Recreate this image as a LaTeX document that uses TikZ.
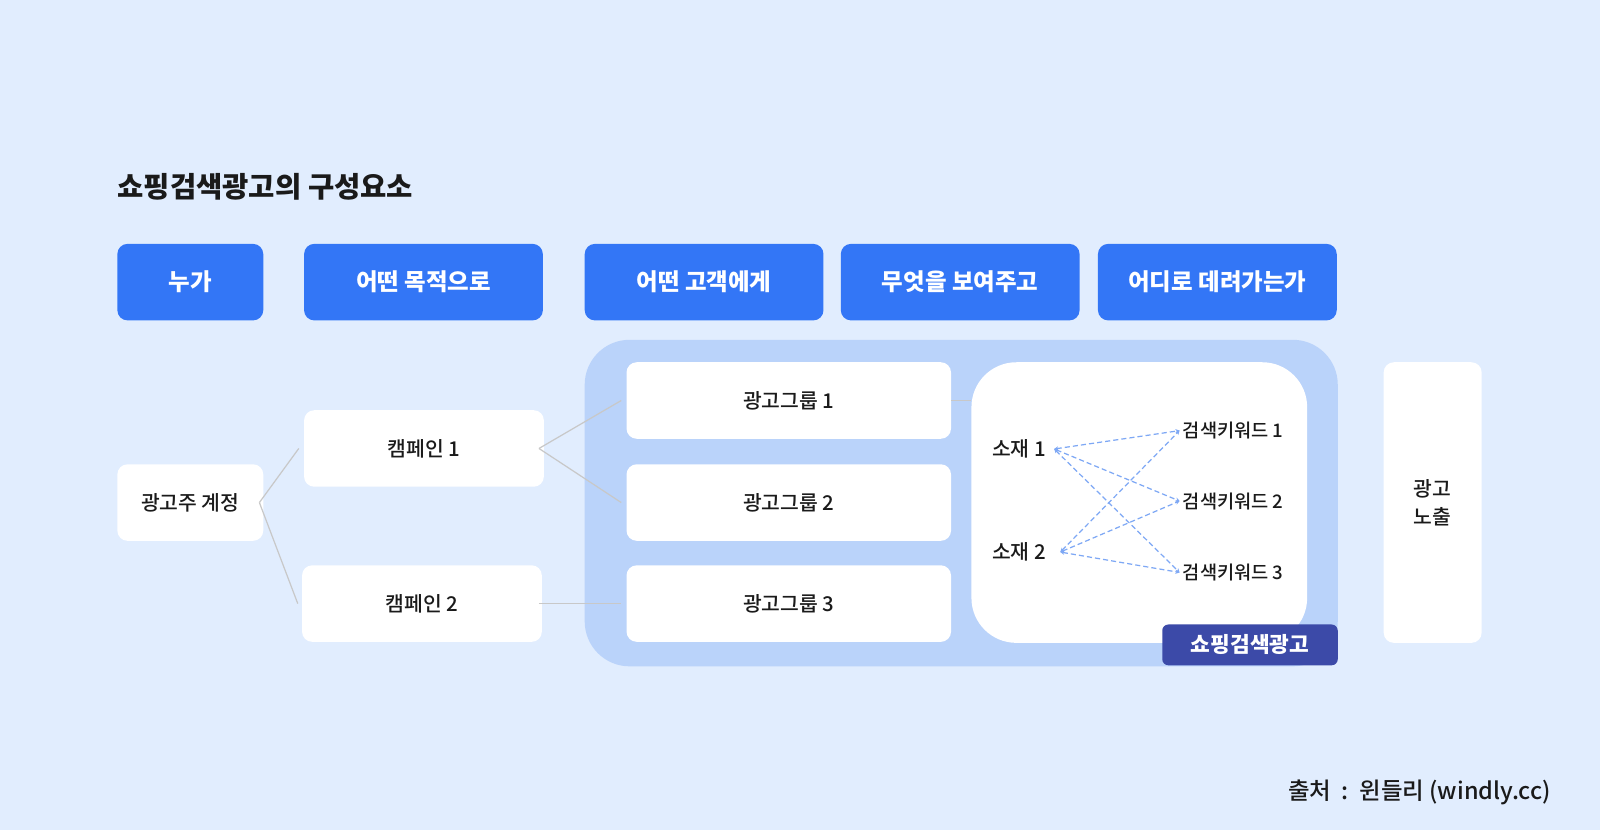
\documentclass[tikz,border=0pt]{standalone}
\usepackage{fontspec}
\setmainfont{Noto Sans CJK KR}
\newfontfamily\mediumfont{Noto Sans CJK KR Medium}
\usetikzlibrary{arrows.meta, positioning}
\definecolor{pagebg}{HTML}{E1EDFE}
\definecolor{headblue}{HTML}{3376F6}
\definecolor{groupbg}{HTML}{BAD3FA}
\definecolor{labelblue}{HTML}{3C4AA8}
\definecolor{linegray}{HTML}{C8C8C8}
\definecolor{linkblue}{HTML}{7EA8F5}
\definecolor{ink}{HTML}{1A1A1A}
\tikzset{
    x=1pt, y=-1pt, % pixel-like units, y grows downwards
    header/.style={fill=headblue, text=white, rounded corners=10pt, minimum width=234pt, minimum height=75pt, font=\fontsize{23}{27}\selectfont\bfseries}, % blue question boxes
    card/.style={fill=white, text=ink, rounded corners=10pt, minimum width=235pt, minimum height=75pt, font=\fontsize{20}{27}\mediumfont}, % white element boxes
    tree/.style={draw=linegray, line width=1.2pt}, % gray structure lines
    link/.style={draw=linkblue, line width=1.2pt, dash pattern=on 5pt off 3pt, {Stealth[length=4pt,width=4pt]}-{Stealth[length=4pt,width=4pt]}}, % dashed matching lines
    item/.style={text=ink, inner sep=3pt, font=\fontsize{20}{24}\mediumfont},
}
\begin{document}
\begin{tikzpicture}
\fill[pagebg] (0,0) rectangle (1568,813);
\useasboundingbox (0,0) rectangle (1568,813);

\node[anchor=west, text=ink, inner sep=0pt, font=\fontsize{28}{32}\selectfont\bfseries] (title) at (115,183) {쇼핑검색광고의 구성요소};

% question row
\node[header, minimum width=143pt] (who) at (186.5,276.5) {누가};
\node[header] (why) at (415,276.5) {어떤 목적으로};
\node[header] (whom) at (690,276.5) {어떤 고객에게};
\node[header] (what) at (941,276.5) {무엇을 보여주고};
\node[header] (where) at (1193,276.5) {어디로 데려가는가};

% ad group area
\node[fill=groupbg, rounded corners=44pt, minimum width=738pt, minimum height=320pt] (area) at (942,493) {};
\node[fill=white, rounded corners=44pt, minimum width=329pt, minimum height=275pt] (ad) at (1116.5,492.5) {};
\node[fill=labelblue, text=white, rounded corners=6pt, minimum width=172pt, minimum height=40pt, font=\fontsize{21}{24}\selectfont\bfseries] (adlabel) at (1225,632) {쇼핑검색광고};

% element boxes
\node[card, minimum width=143pt] (account) at (186.5,492.5) {광고주 계정};
\node[card] (camp1) at (415.5,439.5) {캠페인 1};
\node[card] (camp2) at (413.5,591.5) {캠페인 2};
\node[card, minimum width=318pt] (group1) at (773,392.5) {광고그룹 1};
\node[card, minimum width=318pt] (group2) at (773,492.5) {광고그룹 2};
\node[card, minimum width=318pt] (group3) at (773,591.5) {광고그룹 3};
\node[card, minimum width=96pt, minimum height=275pt, align=center] (show) at (1404,492.5) {광고\\노출};

% tree lines
\draw[tree] ([xshift=-4pt]account.east) -- ([xshift=-5pt]camp1.west);
\draw[tree] ([xshift=-4pt]account.east) -- ([xshift=-4pt]camp2.west);
\draw[tree] ([xshift=-5pt]camp1.east) -- ([xshift=-5pt]group1.west);
\draw[tree] ([xshift=-5pt]camp1.east) -- ([xshift=-5pt]group2.west);
\draw[tree] ([xshift=-3pt]camp2.east) -- ([xshift=-5pt]group3.west);
\draw[tree] (group1.east) -- (ad.west |- group1.east);

% creatives and keywords
\node[item, anchor=west] (item1) at (969,440) {소재 1};
\node[item, anchor=west] (item2) at (969,541) {소재 2};
\node[item, anchor=west, font=\fontsize{18.3}{22}\mediumfont] (key1) at (1156,422) {검색키워드 1};
\node[item, anchor=west, font=\fontsize{18.3}{22}\mediumfont] (key2) at (1156,491) {검색키워드 2};
\node[item, anchor=west, font=\fontsize{18.3}{22}\mediumfont] (key3) at (1156,561) {검색키워드 3};
\foreach \k in {key1,key2,key3}
    \draw[link] ([xshift=5pt]item1.east) -- (\k.west);
\draw[link] ([xshift=11pt]item2.east) -- (key1.west);
\draw[link] ([xshift=11pt]item2.east) -- (key2.west);
\draw[link] ([xshift=11pt]item2.east) -- (key3.west);

\node[anchor=east, text=ink, inner sep=0pt, font=\fontsize{23}{27}\mediumfont] (source) at (1520,777) {출처 \ :\ \ 윈들리 (windly.cc)};
\end{tikzpicture}
\end{document}
